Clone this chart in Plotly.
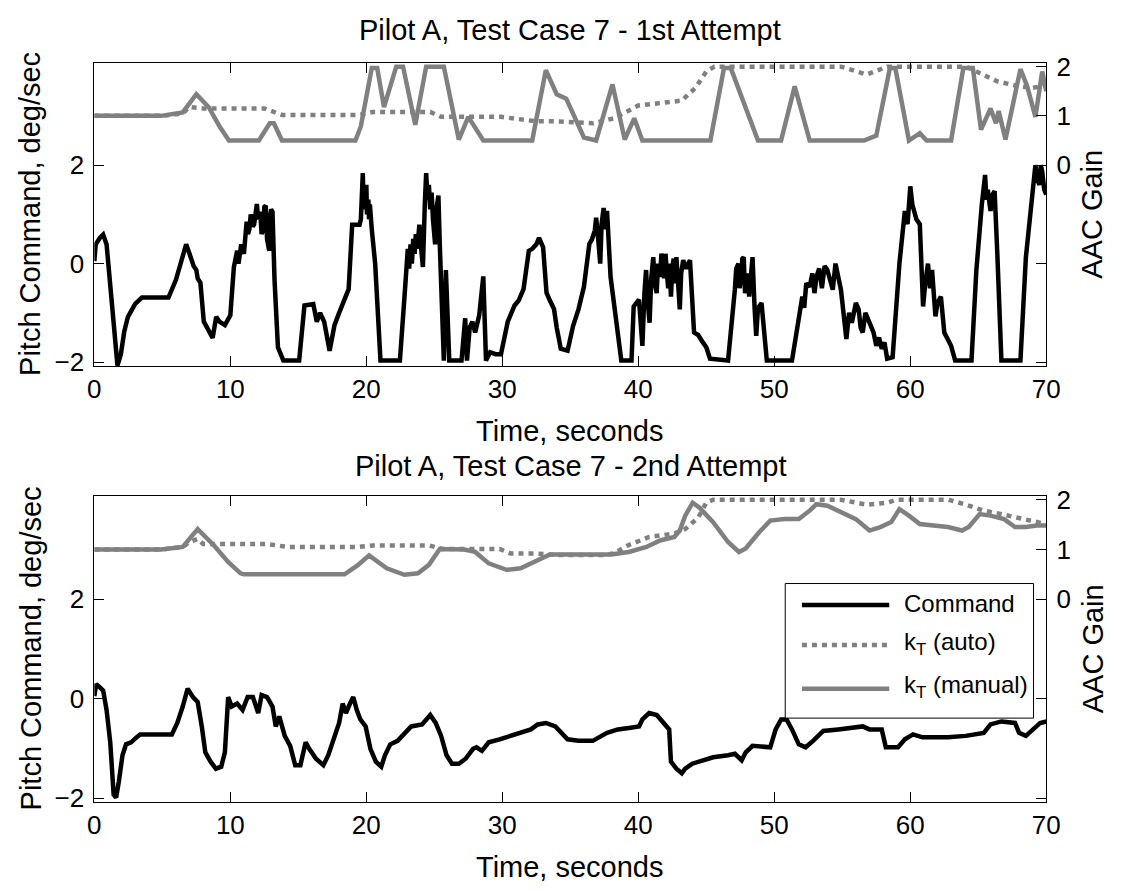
import plotly.graph_objects as go

# ---------------- data ----------------
# Pitch command (deg/sec) vs time (s), 1st attempt
CMD_1 = [
    (0.0, 0.05), (0.1, 0.39), (0.4, 0.52), (0.65, 0.59), (0.9, 0.39), (1.17, -0.46), (1.43, -1.44),
    (1.7, -2.07), (1.95, -1.84), (2.2, -1.38), (2.47, -1.08), (3.0, -0.82), (3.5, -0.69), (5.45, -0.69),
    (6.0, -0.33), (6.5, 0.13), (6.75, 0.39), (7.0, 0.2), (7.15, 0.07), (7.3, -0.05), (7.5, -0.13),
    (7.6, -0.3), (7.8, -0.39), (8.05, -1.18), (8.45, -1.38), (8.7, -1.51), (8.96, -1.08), (9.2, -1.18),
    (9.6, -1.25), (10.0, -1.05), (10.26, -0.07), (10.4, 0.1), (10.5, 0.26), (10.6, 0.0), (10.8, 0.39),
    (11.0, 0.2), (11.1, 0.6), (11.2, 0.85), (11.3, 0.6), (11.4, 0.7), (11.5, 1.0), (11.56, 0.92),
    (11.65, 0.75), (11.75, 0.8), (11.85, 1.1), (11.95, 1.21), (12.05, 0.9), (12.1, 0.95), (12.2, 1.05),
    (12.3, 0.6), (12.4, 0.7), (12.5, 1.15), (12.6, 1.18), (12.7, 0.5), (12.86, 0.26), (12.95, 1.0),
    (13.0, 1.1), (13.1, 1.05), (13.25, -0.33), (13.5, -1.7), (13.9, -1.97), (15.06, -1.97), (15.45, -0.85),
    (16.1, -0.82), (16.2, -1.0), (16.36, -1.18), (16.6, -1.0), (16.9, -1.18), (17.3, -1.77), (17.66, -1.25),
    (18.0, -1.0), (18.3, -0.79), (18.5, -0.6), (18.7, -0.52), (18.96, 0.79), (19.5, 0.79), (19.6, 0.9),
    (19.74, 1.84), (19.8, 1.2), (19.85, 1.5), (19.9, 1.1), (20.0, 1.6), (20.05, 1.0), (20.15, 1.3),
    (20.2, 0.9), (20.26, 1.2), (20.4, 0.7), (20.65, 0.0), (21.04, -1.97), (22.47, -1.97), (22.86, -0.46),
    (22.95, 0.0), (23.05, 0.3), (23.15, -0.1), (23.25, 0.39), (23.35, 0.0), (23.45, 0.5), (23.55, 0.2),
    (23.64, 0.6), (23.75, 0.3), (23.9, 0.79), (24.0, 0.4), (24.16, -0.07), (24.3, 1.2), (24.4, 1.84),
    (24.5, 1.3), (24.6, 1.6), (24.7, 1.1), (24.8, 1.44), (24.9, 0.9), (25.06, 0.39), (25.15, 1.1),
    (25.3, 1.38), (25.4, 0.4), (25.5, -0.5), (25.6, -1.2), (25.7, -1.97), (25.85, -0.13), (26.1, -1.97),
    (27.0, -1.97), (27.27, -1.11), (27.4, -1.97), (27.6, -1.3), (27.8, -1.18), (28.0, -1.4), (28.3, -1.05),
    (28.6, -0.26), (28.8, -1.97), (29.1, -1.8), (29.5, -1.84), (29.9, -1.84), (30.4, -1.18), (30.9, -0.85),
    (31.2, -0.75), (31.56, -0.52), (31.95, 0.26), (32.2, 0.3), (32.5, 0.39), (32.7, 0.52), (33.0, 0.33),
    (33.25, -0.59), (33.5, -0.75), (33.8, -0.92), (34.0, -1.3), (34.3, -1.73), (34.8, -1.77), (35.2, -1.27),
    (35.6, -0.93), (36.0, -0.47), (36.4, 0.4), (36.6, 0.5), (36.8, 0.67), (36.9, 0.93), (37.05, 0.5),
    (37.2, 0.0), (37.3, 0.8), (37.45, 1.13), (37.55, 0.7), (37.7, 1.07), (37.96, -0.27), (38.35, -1.13),
    (38.75, -1.97), (39.5, -1.97), (39.66, -0.87), (40.05, -0.73), (40.15, -1.2), (40.3, -1.67), (40.45, -0.6),
    (40.57, -0.13), (40.7, -0.8), (40.83, -1.2), (40.95, -0.3), (41.1, 0.13), (41.2, -0.4), (41.35, -0.6),
    (41.45, 0.0), (41.6, -0.27), (41.7, 0.2), (41.8, 0.1), (41.9, -0.3), (42.0, 0.2), (42.1, -0.2),
    (42.2, -0.5), (42.3, 0.0), (42.4, -0.67), (42.5, -0.1), (42.6, 0.1), (42.7, -0.4), (42.8, 0.13),
    (42.95, -0.5), (43.05, -0.93), (43.15, -0.2), (43.3, 0.07), (43.5, -0.1), (43.8, 0.07), (44.1, -1.4),
    (44.4, -1.45), (44.75, -1.6), (45.0, -1.7), (45.27, -1.93), (46.6, -1.97), (47.1, -0.53), (47.2, -0.1),
    (47.36, 0.0), (47.45, -0.5), (47.55, -0.3), (47.65, 0.1), (47.75, 0.13), (47.85, -0.6), (47.95, -0.4),
    (48.05, -0.2), (48.15, -0.67), (48.3, 0.0), (48.4, 0.13), (48.55, -0.9), (48.67, -1.47), (48.8, -0.9),
    (49.06, -0.8), (49.45, -1.97), (51.3, -1.97), (52.06, -0.67), (52.2, -0.9), (52.35, -0.4), (52.6, -0.47),
    (52.8, -0.2), (52.95, -0.6), (53.1, -0.27), (53.3, -0.1), (53.5, -0.5), (53.7, -0.05), (53.9, -0.13),
    (54.1, -0.3), (54.3, -0.53), (54.5, 0.0), (54.7, -0.3), (54.9, -0.53), (55.3, -1.53), (55.5, -1.0),
    (55.7, -1.2), (56.0, -0.8), (56.2, -0.93), (56.35, -1.3), (56.5, -1.4), (56.7, -1.0), (57.0, -1.2),
    (57.3, -1.4), (57.5, -1.67), (57.7, -1.5), (57.9, -1.73), (58.1, -1.6), (58.3, -1.93), (58.7, -1.9),
    (59.2, 0.0), (59.6, 1.07), (59.8, 0.8), (60.0, 1.57), (60.15, 1.2), (60.26, 1.07), (60.45, 0.9),
    (60.7, 0.8), (60.94, -0.87), (61.1, -0.4), (61.3, 0.0), (61.45, -0.5), (61.6, -0.13), (61.85, -1.07),
    (62.0, -0.8), (62.25, -0.67), (62.5, -1.4), (63.0, -1.67), (63.3, -1.97), (64.5, -1.97), (64.86, -0.13),
    (65.26, 1.2), (65.5, 1.8), (65.6, 1.3), (65.7, 1.5), (65.8, 1.27), (65.9, 1.07), (66.05, 1.4),
    (66.2, 1.47), (66.4, 0.2), (66.7, -1.97), (68.1, -1.97), (68.5, 0.13), (68.8, 0.93), (69.0, 1.6),
    (69.2, 2.0), (69.35, 1.7), (69.5, 1.6), (69.6, 2.0), (69.7, 1.87), (69.85, 1.5), (70.0, 1.4),
]

# AAC gain k_T, automatic adaptation, 1st attempt
AUTO_1 = [
    (0.0, 1.0), (5.0, 1.0), (6.5, 1.05), (7.0, 1.18), (8.0, 1.15), (12.5, 1.15), (13.8, 1.02),
    (19.5, 1.02), (20.5, 1.08), (24.7, 1.08), (25.5, 0.98), (29.9, 0.98), (32.5, 0.89), (34.0, 0.89),
    (36.7, 0.85), (38.2, 0.95), (40.0, 1.21), (41.4, 1.25), (43.2, 1.31), (44.2, 1.57), (45.0, 1.9),
    (45.6, 2.0), (54.9, 2.0), (56.8, 1.84), (58.3, 2.0), (64.1, 2.0), (64.9, 1.9), (66.4, 1.7),
    (68.0, 1.6), (69.0, 1.57), (70.0, 1.62),
]

# AAC gain k_T, manual setting, 1st attempt
MANUAL_1 = [
    (0.0, 1.0), (4.9, 1.0), (6.5, 1.07), (7.5, 1.44), (8.4, 1.18), (9.2, 0.79), (9.9, 0.5), (12.1, 0.5),
    (12.9, 0.85), (13.2, 0.85), (13.8, 0.5), (19.2, 0.5), (19.6, 0.79), (20.4, 1.97), (20.8, 1.97),
    (21.3, 1.18), (22.2, 2.0), (22.7, 2.0), (23.6, 0.82), (24.4, 2.0), (25.7, 2.0), (26.8, 0.52),
    (27.5, 0.98), (28.6, 0.5), (32.2, 0.5), (33.2, 1.93), (34.0, 1.44), (34.7, 1.35), (36.0, 0.56),
    (36.9, 0.5), (38.1, 1.64), (39.0, 0.52), (39.7, 0.95), (40.3, 0.5), (45.3, 0.5), (46.3, 1.97),
    (46.8, 1.97), (48.8, 0.5), (50.5, 0.5), (51.5, 1.6), (52.6, 0.5), (56.6, 0.5), (57.5, 0.6),
    (58.5, 1.97), (58.9, 1.97), (59.9, 0.5), (60.7, 0.65), (61.2, 0.5), (63.0, 0.5), (63.9, 1.97),
    (64.6, 1.97), (65.2, 0.72), (65.9, 1.15), (66.3, 0.85), (66.5, 1.1), (67.0, 0.52), (68.1, 1.95),
    (68.6, 1.6), (69.2, 0.98), (69.7, 1.9), (70.0, 1.5),
]

# Pitch command (deg/sec) vs time (s), 2nd attempt
CMD_2 = [
    (0.0, 0.05), (0.13, 0.29), (0.39, 0.23), (0.65, 0.16), (0.9, -0.23), (1.17, -0.88), (1.42, -1.93),
    (1.6, -1.99), (1.8, -1.67), (2.07, -1.14), (2.33, -0.92), (2.7, -0.88), (3.1, -0.78), (3.37, -0.72),
    (5.7, -0.72), (6.1, -0.49), (6.5, -0.16), (6.86, 0.2), (7.25, 0.03), (7.6, -0.07), (7.9, -0.56),
    (8.16, -1.08), (8.55, -1.27), (8.94, -1.41), (9.33, -1.37), (9.6, -1.08), (9.84, 0.03), (10.1, -0.16),
    (10.5, -0.1), (10.9, -0.23), (11.27, 0.03), (11.66, 0.03), (12.05, -0.29), (12.3, 0.07), (12.7, 0.03),
    (13.1, -0.16), (13.34, -0.56), (13.6, -0.36), (14.0, -0.75), (14.4, -0.95), (14.77, -1.34), (15.15, -1.34),
    (15.54, -0.88), (15.8, -1.01), (16.3, -1.21), (16.84, -1.34), (17.2, -1.14), (17.75, -0.69), (18.0, -0.49),
    (18.26, -0.1), (18.5, -0.29), (18.8, -0.1), (19.04, 0.03), (19.3, -0.23), (19.56, -0.42), (19.95, -0.56),
    (20.3, -1.01), (20.7, -1.27), (21.1, -1.37), (21.37, -1.14), (21.76, -0.92), (22.3, -0.85), (22.8, -0.69),
    (23.3, -0.56), (24.1, -0.52), (24.5, -0.39), (24.7, -0.33), (25.1, -0.49), (25.5, -0.75), (25.9, -1.14),
    (26.3, -1.31), (26.8, -1.31), (27.3, -1.21), (27.85, -1.01), (28.1, -0.98), (28.5, -1.05), (29.0, -0.88),
    (29.8, -0.82), (30.6, -0.75), (31.35, -0.69), (32.1, -0.62), (32.6, -0.52), (33.2, -0.49), (33.9, -0.56),
    (34.8, -0.82), (35.6, -0.85), (36.65, -0.85), (37.7, -0.69), (38.5, -0.62), (39.3, -0.59), (40.05, -0.56),
    (40.3, -0.42), (40.8, -0.29), (41.36, -0.33), (41.9, -0.49), (42.27, -0.62), (42.4, -1.27), (42.8, -1.41),
    (43.2, -1.5), (43.45, -1.41), (43.97, -1.31), (44.75, -1.24), (45.5, -1.18), (46.6, -1.14), (47.1, -1.11),
    (47.6, -1.24), (47.9, -1.08), (48.4, -0.95), (49.2, -0.98), (49.7, -0.98), (50.1, -0.62), (50.5, -0.42),
    (50.9, -0.42), (51.3, -0.62), (51.8, -0.92), (52.3, -0.98), (52.85, -0.85), (53.6, -0.65), (54.7, -0.62),
    (55.7, -0.59), (56.5, -0.56), (57.0, -0.62), (57.9, -0.62), (58.2, -0.98), (59.1, -0.98), (59.6, -0.82),
    (60.2, -0.72), (60.9, -0.78), (62.77, -0.78), (64.07, -0.75), (65.4, -0.69), (65.9, -0.52), (66.7, -0.46),
    (67.7, -0.49), (68.0, -0.69), (68.5, -0.75), (69.0, -0.62), (69.55, -0.49), (70.0, -0.46),
]

# AAC gain k_T, automatic adaptation, 2nd attempt
AUTO_2 = [
    (0.0, 1.0), (5.0, 1.0), (6.5, 1.05), (7.0, 1.15), (7.6, 1.21), (8.0, 1.11), (12.7, 1.11),
    (14.2, 1.05), (19.4, 1.05), (20.5, 1.08), (24.6, 1.08), (25.6, 1.01), (29.8, 1.01), (30.6, 0.92),
    (32.4, 0.92), (33.9, 0.89), (37.4, 0.89), (38.2, 0.92), (39.3, 1.09), (40.8, 1.25), (42.65, 1.32),
    (43.45, 1.41), (44.4, 1.64), (45.0, 1.94), (45.5, 2.0), (54.9, 2.0), (56.8, 1.9), (58.3, 1.94),
    (59.0, 2.0), (62.8, 2.0), (64.1, 1.9), (65.4, 1.78), (66.7, 1.71), (68.0, 1.64), (69.0, 1.58),
    (70.0, 1.51),
]

# AAC gain k_T, manual setting, 2nd attempt
MANUAL_2 = [
    (0.0, 1.0), (4.9, 1.0), (6.5, 1.05), (7.6, 1.41), (8.8, 1.08), (9.84, 0.75), (10.75, 0.52),
    (11.0, 0.5), (18.4, 0.5), (19.4, 0.69), (20.2, 0.88), (21.5, 0.62), (22.8, 0.49), (23.8, 0.52),
    (24.6, 0.69), (25.4, 1.01), (27.2, 1.0), (28.0, 0.95), (29.0, 0.72), (30.3, 0.59), (31.35, 0.62),
    (32.6, 0.78), (33.5, 0.9), (34.1, 0.9), (36.1, 0.9), (38.0, 0.9), (39.3, 0.95), (40.6, 1.05),
    (41.6, 1.18), (42.65, 1.25), (43.05, 1.38), (43.45, 1.68), (44.0, 1.94), (44.5, 1.84), (45.5, 1.55),
    (46.6, 1.15), (47.4, 0.95), (47.9, 1.02), (48.9, 1.35), (49.7, 1.58), (50.75, 1.61), (51.8, 1.61),
    (52.6, 1.78), (53.1, 1.91), (53.9, 1.88), (54.9, 1.74), (56.0, 1.61), (57.0, 1.38), (57.8, 1.45),
    (58.6, 1.55), (59.2, 1.81), (59.9, 1.68), (60.7, 1.51), (61.7, 1.48), (62.77, 1.45), (63.8, 1.38),
    (64.3, 1.45), (65.1, 1.71), (65.9, 1.68), (66.9, 1.61), (67.7, 1.45), (68.5, 1.45), (69.3, 1.48),
    (70.0, 1.48),
]

PANEL_TITLES = ["Pilot A, Test Case 7 - 1st Attempt", "Pilot A, Test Case 7 - 2nd Attempt"]
X_TICKS = [0, 10, 20, 30, 40, 50, 60, 70]
LEFT_TICKS = [-2, 0, 2]
RIGHT_TICKS = [0, 1, 2]
SERIES_NAMES = ["Command", "k<sub>T</sub> (auto)", "k<sub>T</sub> (manual)"]

# ---------------- styling ----------------
W, H = 1128, 892
FONT = "Liberation Sans, Arial, Helvetica, sans-serif"
GRAY = "#808080"
DOTS = "5px,5px"
LW = 4.5
X_PIX = (89, 1059)                   # plot-area left/right in px
PANELS_PIX = [(53, 364), (497, 811)]  # plot-area top/bottom in px


def px_x(p):
    return p / W


def px_y(p):
    return 1 - p / H


def unzip(pairs):
    return [p[0] for p in pairs], [p[1] for p in pairs]


fig = go.Figure()

panels = [(CMD_1, AUTO_1, MANUAL_1), (CMD_2, AUTO_2, MANUAL_2)]
for i, (cmd, auto, manual) in enumerate(panels):
    xa = "x" if i == 0 else "x2"
    yl = "y" if i == 0 else "y3"
    yr = "y2" if i == 0 else "y4"
    t, v = unzip(cmd)
    fig.add_trace(go.Scatter(x=t, y=v, xaxis=xa, yaxis=yl, mode="lines", name=SERIES_NAMES[0],
                             line=dict(color="black", width=LW), showlegend=False))
    t, v = unzip(manual)
    fig.add_trace(go.Scatter(x=t, y=v, xaxis=xa, yaxis=yr, mode="lines", name=SERIES_NAMES[2],
                             line=dict(color=GRAY, width=LW), showlegend=False))
    t, v = unzip(auto)
    fig.add_trace(go.Scatter(x=t, y=v, xaxis=xa, yaxis=yr, mode="lines", name=SERIES_NAMES[1],
                             line=dict(color=GRAY, width=LW, dash=DOTS), showlegend=False))

tickfont = dict(family=FONT, size=26, color="black")
common_x = dict(range=[0, 70], tickvals=X_TICKS, ticks="inside", ticklen=10, tickcolor="black",
                showline=True, linecolor="black", linewidth=1, mirror="ticks",
                showgrid=False, zeroline=False, tickfont=tickfont, ticklabelstandoff=0)
# left axis mirrors its ticks onto the right edge (unlabelled there)
common_yl = dict(range=[-2.08, 4.08], tickvals=LEFT_TICKS, ticks="inside", ticklen=10, tickcolor="black",
                 showline=True, linecolor="black", linewidth=1, mirror="ticks", showgrid=False,
                 zeroline=False, tickfont=tickfont, ticklabelstandoff=4)
common_yr = dict(range=[-4.08, 2.08], tickvals=RIGHT_TICKS, side="right",
                 ticks="inside", ticklen=10, tickcolor="black", showline=True, linecolor="black",
                 linewidth=1, showgrid=False, zeroline=False, tickfont=tickfont, ticklabelstandoff=4)

xdom = [px_x(X_PIX[0]), px_x(X_PIX[1])]
d1 = [px_y(PANELS_PIX[0][1]), px_y(PANELS_PIX[0][0])]
d2 = [px_y(PANELS_PIX[1][1]), px_y(PANELS_PIX[1][0])]

fig.update_layout(
    width=W, height=H, margin=dict(l=0, r=0, t=0, b=0),
    paper_bgcolor="white", plot_bgcolor="white", showlegend=False,
    font=dict(family=FONT, color="black"),
    xaxis=dict(domain=xdom, anchor="y", **common_x),
    yaxis=dict(domain=d1, anchor="x", **common_yl),
    yaxis2=dict(domain=d1, anchor="x", overlaying="y", **common_yr),
    xaxis2=dict(domain=xdom, anchor="y3", **common_x),
    yaxis3=dict(domain=d2, anchor="x2", **common_yl),
    yaxis4=dict(domain=d2, anchor="x2", overlaying="y3", **common_yr),
)

# titles and axis labels
label_font = dict(family=FONT, size=29, color="black")
xc = (X_PIX[0] + X_PIX[1]) / 2
anns = []
for i, (top, bot) in enumerate(PANELS_PIX):
    yc = (top + bot) / 2
    anns.append(dict(text=PANEL_TITLES[i], x=px_x(xc), y=px_y([19, 466][i]), xref="paper", yref="paper",
                     xanchor="center", yanchor="middle", showarrow=False, font=label_font))
    anns.append(dict(text="Time, seconds", x=px_x(xc), y=px_y([431, 878][i]), xref="paper", yref="paper",
                     xanchor="center", yanchor="middle", showarrow=False, font=label_font))
    anns.append(dict(text="Pitch Command, deg/sec", x=px_x(24), y=px_y(yc), xref="paper", yref="paper",
                     xanchor="center", yanchor="middle", textangle=-90, showarrow=False, font=label_font))
    anns.append(dict(text="AAC Gain", x=px_x(1106), y=px_y(yc), xref="paper", yref="paper",
                     xanchor="center", yanchor="middle", textangle=-90, showarrow=False, font=label_font))

# legend box in the lower panel
LEG = dict(x0=793, x1=1046, y0=587, y1=725)
leg_rows = [(609, dict(color="black", width=LW)),
            (650, dict(color=GRAY, width=LW, dash=DOTS)),
            (695, dict(color=GRAY, width=LW))]
shapes = [dict(type="rect", xref="paper", yref="paper", x0=px_x(LEG["x0"]), x1=px_x(LEG["x1"]),
               y0=px_y(LEG["y1"]), y1=px_y(LEG["y0"]), line=dict(color="black", width=1),
               fillcolor="white", layer="above")]
for (yrow, ln), name in zip(leg_rows, SERIES_NAMES):
    shapes.append(dict(type="line", xref="paper", yref="paper", x0=px_x(810), x1=px_x(899),
                       y0=px_y(yrow), y1=px_y(yrow), line=ln, layer="above"))
    anns.append(dict(text=name, x=px_x(912), y=px_y(yrow - 2), xref="paper", yref="paper",
                     xanchor="left", yanchor="middle", showarrow=False,
                     font=dict(family=FONT, size=24, color="black")))

fig.update_layout(annotations=anns, shapes=shapes)
fig.write_html("out.html")
